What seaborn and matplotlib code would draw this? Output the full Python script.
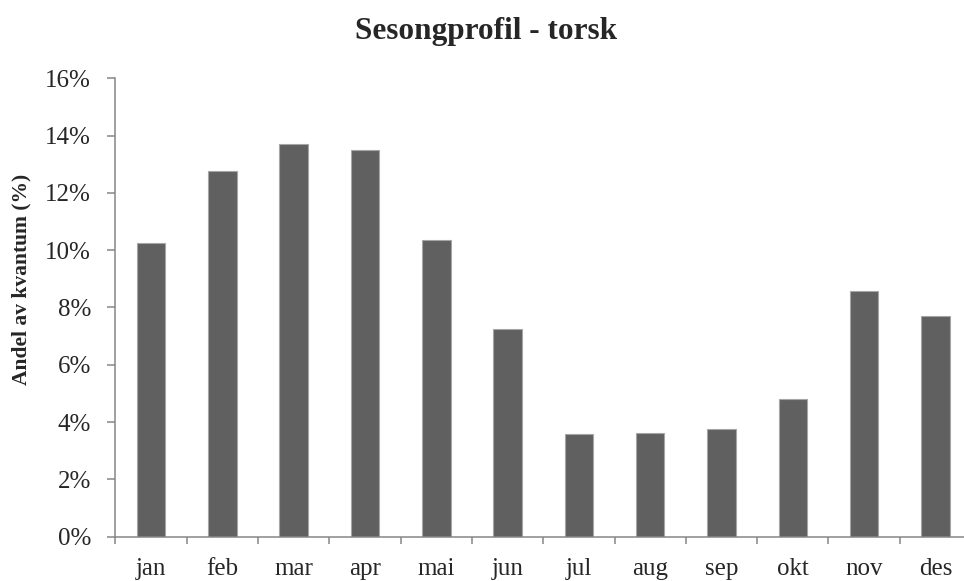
import matplotlib
matplotlib.use("Agg")
import matplotlib.pyplot as plt
import seaborn as sns
import pandas as pd
import numpy as np
from matplotlib.ticker import FuncFormatter, FixedLocator

# data (share of yearly quantity, %)
months = ["jan", "feb", "mar", "apr", "mai", "jun",
          "jul", "aug", "sep", "okt", "nov", "des"]
share = [10.25, 12.78, 13.72, 13.51, 10.37, 7.24,
         3.58, 3.61, 3.75, 4.81, 8.59, 7.69]
y_ticks = [0, 2, 4, 6, 8, 10, 12, 14, 16]

title = "Sesongprofil - torsk"
ylabel = "Andel av kvantum (%)"

sns.set_style("white")
plt.rcParams["font.family"] = ["Liberation Serif", "DejaVu Serif"]

df = pd.DataFrame({"month": months, "share": share})

fig = plt.figure(figsize=(9.64, 5.81), dpi=100)
ax = fig.add_axes([0.1198, 0.0763, 0.8875, 0.7889])

sns.barplot(data=df, x="month", y="share", color="#606060", width=0.4,
            saturation=1, edgecolor="#a6a6a6", linewidth=0.8, ax=ax)

spine_col = "#868686"
for side in ["top", "right"]:
    ax.spines[side].set_visible(False)
for side in ["left", "bottom"]:
    ax.spines[side].set_color(spine_col)
    ax.spines[side].set_linewidth(1.1)

ax.set_ylim(0, 16)
ax.set_xlim(-0.5, len(months) - 0.5)
ax.set_yticks(y_ticks)
ax.yaxis.set_major_formatter(FuncFormatter(lambda v, p: f"{v:.0f}%"))
ax.tick_params(axis="y", direction="out", length=5.5, width=1.1, color=spine_col,
               labelsize=18, pad=12, left=True)

# category labels centred, tick marks between categories
ax.tick_params(axis="x", which="major", length=0, labelsize=18, pad=15)
ax.xaxis.set_minor_locator(FixedLocator(np.arange(-0.5, len(months), 1.0)))
ax.tick_params(axis="x", which="minor", direction="out", length=5, width=1.1,
               color=spine_col, bottom=True)

ax.set_xlabel("")
ax.set_ylabel("")

fig.text(0.504, 0.933, title, ha="center", va="baseline",
         fontsize=22.5, fontweight="bold")
fig.text(0.0228, 0.52, ylabel, ha="center", va="center", rotation=90,
         fontsize=15.5, fontweight="bold")

fig.savefig("out.png", dpi=100)
